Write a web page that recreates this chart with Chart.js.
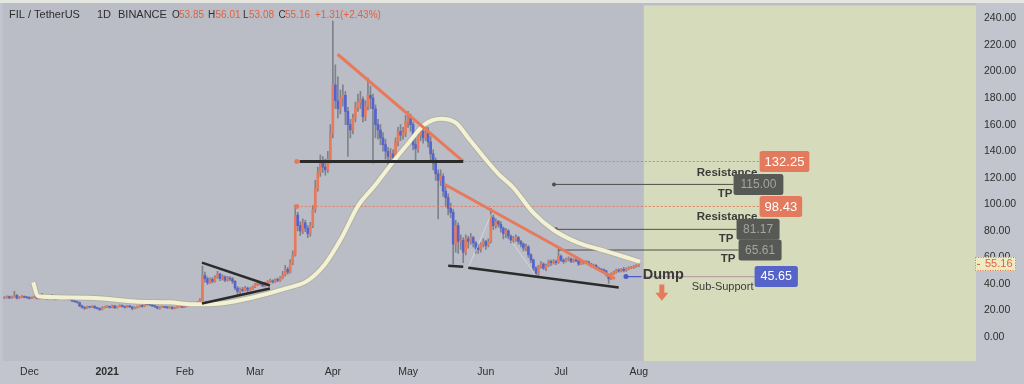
<!DOCTYPE html>
<html><head><meta charset="utf-8">
<script src="https://cdn.jsdelivr.net/npm/chart.js@4.4.1/dist/chart.umd.min.js"></script>
<style>html,body{margin:0;padding:0;background:#c2c5cd;overflow:hidden}canvas{display:block}</style>
</head><body>
<canvas id="c" width="1024" height="384" style="width:1024px;height:384px"></canvas>
<script>
// ---------- DATA ----------
// day index: 0 = 1 Dec 2020; first candle = 21 Nov 2020, last = 1 Aug 2021
const firstDay = -10;
const monthTickDays   = [0, 31, 62, 90, 121, 151, 182, 212, 243];
const monthTickLabels = ['Dec', '2021', 'Feb', 'Mar', 'Apr', 'May', 'Jun', 'Jul', 'Aug'];
const priceTicks = [0, 20, 40, 60, 80, 100, 120, 140, 160, 180, 200, 220, 240];

const firstOpen = 29.5;
const closes = [
 29.8,30.5,29.6,30.2,31.5,29.4,30.1,30.8,30.0,29.7,
 29.2,29.8,30.3,29.1,29.6,30.4,29.9,29.0,29.5,29.1,28.6,29.3,29.8,29.4,28.9,29.6,28.4,27.2,26.8,26.1,23.6,22.4,21.8,22.9,22.5,23.2,22.1,21.6,20.9,22.3,22.8,
 23.1,22.4,23.6,22.2,23.0,23.8,23.1,22.5,23.4,22.9,21.6,22.3,22.9,23.5,23.2,25.8,24.6,24.2,23.4,23.1,21.8,22.6,22.9,22.4,22.1,22.6,21.5,22.3,22.7,23.0,22.6,
 23.4,24.1,24.8,24.3,25.2,26.0,27.8,46.5,44.0,41.0,43.5,42.0,45.0,47.5,44.0,45.5,43.0,44.5,43.8,42.0,37.0,34.5,36.0,35.2,37.0,35.5,36.5,37.8,
 39.5,41.0,40.2,38.6,40.5,41.8,42.5,41.6,43.0,42.8,44.5,47.0,51.0,49.0,56.0,62.0,92.0,84.0,80.0,86.0,82.0,78.0,84.0,96.0,112,124,132,128,126,134,153,
 190,178,172,180,182,170,160,156,165,173,177,179,166,174,182,180,172,160,156,150,145,140,136,138,135,147,155,152,154,162,
 165,160,145,142,152,155,150,154,147,138,131,123,118,121,110,105,97,94,70,84,72,73,64,74,72,75,71,67,66,70,72,
 69,72,90,84,87,85,82,78,80,76,73,74,75,72,70,67,68,62,58,52,48,53,55,52,54,57,56,57,56,61,
 58,57,58.5,59,57,58,57.5,55,56.5,56,56.8,55,53.5,54,52,51,50.5,50,47,44,47.5,49,50.5,49.8,51,50,51.5,52,52.5,53.2,53.85,
 55.16
];
const highs = [
 30.6,31.2,30.9,31.0,34.5,32.0,30.7,31.4,31.2,30.5,
 30.3,30.4,31.0,30.6,30.1,33.0,30.8,30.2,30.0,32.0,29.5,29.8,30.4,30.2,29.8,30.2,29.9,28.8,27.8,27.2,26.5,24.1,23.0,23.4,23.3,23.8,23.7,22.6,22.0,22.8,23.4,
 23.7,23.5,24.2,24.0,23.5,24.4,24.3,23.6,23.9,23.8,23.1,22.9,23.4,24.0,24.1,27.0,26.2,25.1,24.6,23.8,23.3,23.0,23.4,23.2,23.0,23.0,22.9,22.7,23.4,23.5,23.3,
 23.9,24.6,25.4,25.3,25.8,26.8,29.0,53.5,49.0,45.2,44.6,44.8,46.3,49.5,48.2,47.0,46.2,45.8,45.6,44.8,42.6,38.0,37.2,37.5,38.2,37.8,37.4,38.6,
 40.6,42.5,41.8,40.8,41.5,42.6,43.8,43.2,44.0,44.5,45.6,49.5,54.0,52.5,58.5,65.0,99.5,94.0,87.0,89.0,88.0,84.0,86.5,99.0,118,128,137,136,134,140,160,
 238,205,196,186,190,185,173,164,168,177,183,185,181,178,195,189,183,175,164,160,154,149,143,142,141,150,158,160,158,167,
 170,168,162,150,156,160,158,160,158,151,141,135,126,126,123,114,108,101,96,88,86,77,75,77,76,78,76,72,70,71,74,
 73,74,97,92,89,88,87,83,82,81,77,76,77,76,73,71,70,69,63,59,53,54,57,56,55,58,58,58.5,58,66.5,
 62,59,59.5,60.5,59.8,59,59.2,58,57.4,57.5,57.6,57.2,55.6,55,54.6,52.8,51.8,51.4,50.5,47.6,48.5,49.8,51.2,51.5,51.8,52.5,52.2,53,53.4,54,54.6,
 56.01
];
const lows = [
 29.0,29.4,29.0,29.2,29.9,28.8,29.0,29.8,29.5,29.1,
 28.7,28.9,29.5,28.7,28.8,29.3,29.4,28.5,28.6,28.7,28.0,28.3,29.0,28.9,28.4,28.6,28.0,26.8,26.2,25.6,23.0,21.8,20.9,21.4,22.0,22.2,21.6,21.0,20.0,20.5,21.9,
 22.3,21.9,22.1,21.5,21.8,22.7,22.6,21.8,22.2,22.3,20.6,21.2,21.9,22.6,22.6,23.0,24.0,23.7,23.0,22.2,21.2,21.1,22.2,22.0,21.7,21.6,21.0,21.2,21.9,22.4,22.1,
 22.3,23.1,23.8,23.7,24.0,24.9,25.6,27.2,41.5,39.5,40.2,40.8,41.4,44.2,42.5,43.0,41.8,42.2,42.6,40.5,35.5,31.0,32.0,34.0,34.6,34.2,35.0,35.8,
 37.2,38.8,39.2,37.8,37.9,39.8,41.0,40.6,41.0,41.8,42.0,43.8,46.0,47.5,48.2,54.5,61.0,80.0,76.5,78.0,79.5,75.0,76.0,82.5,94,110,121,124,122,124,131,
 150,172,165,168,174,160,136,150,153,162,170,172,162,163,171,172,131,150,149,145,140,134,130,132,131,133,144,148,149,151,
 158,155,141,133,139,148,146,148,143,133,126,118,89,114,106,98,92,90,55,64,63,66,56,62,67,70,68,63,63,64,68,
 66,68,71,81,82,83,79,74,75,74,71,71,72,70,68,65,65,60,56,50,45,46,52,51,50,53,54,55,54.5,55.5,
 57,55.5,56.5,57.5,56,56.2,56.8,54,54.5,55,55.5,54.2,52.8,52.5,51.2,50,49.6,49,46,40.5,43.2,46.8,48.2,49,49.2,49.2,49.5,50.8,51.5,51.8,52.6,
 53.08
];

// moving average
const maDays   = [1.5,3.4,16,29,42,56,65,76,89,102,111,118,124.5,131,137.5,144.5,151,157.5,164,170,175.5,181,187,193,201,209,219,228,238.5,243.5];
const maValues = [41.3,30.8,29.9,29.2,26.9,26.2,24.7,25.4,29.9,36.6,42.6,55.3,74.8,98.7,113.6,130.8,145.8,160,164.5,161.5,148.8,136,123,112.5,93.5,80.7,71.0,65.8,59.8,56.8];

// drawn trend lines [day, price]
const fallLineTop    = [[122.9,213],[173,132.3]];
const fallLineLow    = [[165.5,115.1],[233.5,44]];
const neckLine       = [[107.8,132.25],[173,132.25]];
const wedgeBaseA     = [[167,53.8],[173,53.1]];
const wedgeBaseB     = [[175,52.3],[235,37.4]];
const febTriTop      = [[68.8,56.1],[95.9,38.9]];
const febTriBottom   = [[68.8,25.4],[95.9,36.6]];
const faintLegs      = [[[175,52.3],[184.2,92.7]], [[192.1,72.5],[202,46.4]]];

// levels
const resistance1 = 132.25, takeProfit1 = 115.00, resistance2 = 98.43;
const takeProfit2 = 81.17, takeProfit3 = 65.61, subSupport = 45.65;
const zoneStartDay = 245;

// ---------- STYLE ----------
const UP = '#e8795a', DOWN = '#5564cd', WICK = '#7f828a';
const FONT = '"Liberation Sans", Arial, sans-serif';
const opens = closes.map((c, i) => i === 0 ? firstOpen : closes[i - 1]);
const days = closes.map((_, i) => firstDay + i);

function seg(points, color, width, dash, order, dot) {
  return { type: 'line', data: points.map(p => ({ x: p[0], y: p[1] })),
    borderColor: color, borderWidth: width, borderDash: dash || [],
    pointRadius: dot ? points.map((_, i) => i === 0 ? dot : 0) : 0,
    pointBackgroundColor: color, pointBorderWidth: 0, pointHoverRadius: 0,
    fill: false, tension: 0, order: order };
}

const datasets = [
  { type: 'bar', data: days.map((d, i) => ({ x: d, y: [lows[i], highs[i]] })),
    backgroundColor: WICK, barThickness: 1, grouped: false, order: 30 },
  { type: 'bar', data: days.map((d, i) => ({ x: d, y: [opens[i], closes[i]] })),
    backgroundColor: closes.map((c, i) => c >= opens[i] ? UP : DOWN),
    barThickness: 2, minBarLength: 1, grouped: false, order: 29 },
  ...faintLegs.map(p => seg(p, 'rgba(235,235,240,0.55)', 1, [], 25)),
  seg([[106.6, resistance1], [291.2, resistance1]], UP, 1, [2, 2], 12, 2.5),
  seg([[106.6, resistance2], [291.2, resistance2]], UP, 1, [2, 2], 12, 2.5),
  seg([[209.2, takeProfit1], [280.8, takeProfit1]], '#4e504c', 1, [], 12, 2),
  seg([[210, takeProfit2], [282, takeProfit2]], '#4e504c', 1, [], 12, 2),
  seg([[210.8, takeProfit3], [282.8, takeProfit3]], '#4e504c', 1, [], 12, 0),
  seg([[237.9, subSupport], [244, subSupport]], '#4a5ac8', 1.2, [], 12, 2.5),
  seg([[244, subSupport], [289.2, subSupport]], '#b9a2a6', 1.2, [], 12, 0),
  { type: 'line', data: maDays.map((d, i) => ({ x: d, y: maValues[i] })),
    borderColor: 'rgba(160,160,120,0.4)', borderWidth: 6, pointRadius: 0,
    fill: false, cubicInterpolationMode: 'monotone', order: 9 },
  { type: 'line', data: maDays.map((d, i) => ({ x: d, y: maValues[i] })),
    borderColor: '#f3f1d3', borderWidth: 4, pointRadius: 0,
    fill: false, cubicInterpolationMode: 'monotone', order: 8 },
  seg(fallLineTop, UP, 3, [], 5),
  seg(fallLineLow, UP, 3, [], 5),
  seg(neckLine, '#2b2b2b', 3, [], 4),
  seg(wedgeBaseA, '#2b2b2b', 2.5, [], 4),
  seg(wedgeBaseB, '#2b2b2b', 2.5, [], 4),
  seg(febTriTop, '#2b2b2b', 2.5, [], 4),
  seg(febTriBottom, '#2b2b2b', 2.5, [], 4)
];

// annotations (in chart data coordinates)
const tags = [
  { v: resistance1, d: 291.2, bg: '#e37a5e', fg: '#ffffff', font: '13px', pad: 5 },
  { v: takeProfit1, d: 280.8, bg: '#565954', fg: '#a3a5a0', font: '12px', pad: 7 },
  { v: resistance2, d: 291.2, bg: '#e37a5e', fg: '#ffffff', font: '13px', pad: 5 },
  { v: takeProfit2, d: 282.0, bg: '#565954', fg: '#a3a5a0', font: '12px', pad: 6.5 },
  { v: takeProfit3, d: 282.8, bg: '#565954', fg: '#a3a5a0', font: '12px', pad: 6.5 },
  { v: subSupport,  d: 289.2, bg: '#5663c8', fg: '#ffffff', font: '12.5px', pad: 6 }
];
const notes = [
  { t: 'Resistance', d: 266.1, v: 124.1, font: 'bold 11.5px' },
  { t: 'TP', d: 274.5, v: 107.7, font: 'bold 11.5px' },
  { t: 'Resistance', d: 266.1, v: 90.5, font: 'bold 11.5px' },
  { t: 'TP', d: 274.9, v: 74.0, font: 'bold 11.5px' },
  { t: 'TP', d: 275.7, v: 59.1, font: 'bold 11.5px' },
  { t: 'Dump', d: 244.6, v: 47.1, font: 'bold 14.5px' },
  { t: 'Sub-Support', d: 264.1, v: 38.1, font: '11px' }
];
const arrow = { d: 252.2, top: 39.6, bottom: 27.4 };

function rr(ctx, x, y, w, h, r) {
  ctx.beginPath(); ctx.moveTo(x + r, y); ctx.lineTo(x + w - r, y); ctx.quadraticCurveTo(x + w, y, x + w, y + r);
  ctx.lineTo(x + w, y + h - r); ctx.quadraticCurveTo(x + w, y + h, x + w - r, y + h);
  ctx.lineTo(x + r, y + h); ctx.quadraticCurveTo(x, y + h, x, y + h - r);
  ctx.lineTo(x, y + r); ctx.quadraticCurveTo(x, y, x + r, y); ctx.closePath();
}

const deco = {
  id: 'deco',
  beforeDraw(chart) {
    const { ctx, chartArea: a, scales: { x } } = chart;
    ctx.save();
    ctx.fillStyle = '#c2c5cd'; ctx.fillRect(0, 0, chart.width, chart.height);
    ctx.fillStyle = '#babdc6'; ctx.fillRect(a.left, a.top, a.right - a.left, a.bottom - a.top);
    const gx = x.getPixelForValue(zoneStartDay);
    ctx.fillStyle = '#d6dbbc'; ctx.fillRect(gx, a.top + 3, a.right - gx, a.bottom - a.top - 3);
    ctx.fillStyle = '#e6e6e0'; ctx.fillRect(0, 0, chart.width, 3);
    ctx.restore();
  },
  afterDatasetsDraw(chart) {
    const { ctx, scales: { x, y } } = chart;
    ctx.save();
    ctx.textBaseline = 'middle';
    notes.forEach(n => {
      ctx.font = n.font + ' ' + FONT; ctx.fillStyle = '#3b3b3b'; ctx.textAlign = 'left';
      ctx.fillText(n.t, x.getPixelForValue(n.d), y.getPixelForValue(n.v));
    });
    tags.forEach(t => {
      const txt = t.v.toFixed(2);
      ctx.font = t.font + ' ' + FONT;
      const w = ctx.measureText(txt).width + 2 * t.pad;
      const px = x.getPixelForValue(t.d), py = y.getPixelForValue(t.v);
      ctx.fillStyle = t.bg; rr(ctx, px, py - 10.5, w, 21, 2.5); ctx.fill();
      ctx.fillStyle = t.fg; ctx.textAlign = 'center';
      ctx.fillText(txt, px + w / 2, py + 0.5);
    });
    const ax = x.getPixelForValue(arrow.d), at = y.getPixelForValue(arrow.top), ab = y.getPixelForValue(arrow.bottom);
    const mid = at + (ab - at) * 0.5;
    ctx.fillStyle = UP; ctx.beginPath();
    ctx.moveTo(ax - 2.5, at); ctx.lineTo(ax + 2.5, at); ctx.lineTo(ax + 2.5, mid);
    ctx.lineTo(ax + 6.5, mid); ctx.lineTo(ax, ab); ctx.lineTo(ax - 6.5, mid); ctx.lineTo(ax - 2.5, mid);
    ctx.closePath(); ctx.fill();
    ctx.restore();
  },
  afterDraw(chart) {
    const { ctx, scales: { y } } = chart;
    const n = closes.length - 1;
    const o = opens[n], h = highs[n], l = lows[n], c = closes[n];
    const ch = c - opens[n];
    ctx.save();
    ctx.textBaseline = 'middle'; ctx.textAlign = 'left';
    const dark = '#2e2e2e', red = '#e0623f';
    ctx.font = '11px ' + FONT; ctx.fillStyle = dark;
    ctx.fillText('FIL / TetherUS', 9, 15);
    ctx.fillText('1D', 97, 15);
    ctx.fillText('BINANCE', 118, 15);
    ctx.font = '10px ' + FONT;
    const parts = [['O', 172, dark], [o.toFixed(2), 179, red], ['H', 208, dark], [h.toFixed(2), 215.5, red],
      ['L', 243, dark], [l.toFixed(2), 249, red], ['C', 278.5, dark], [c.toFixed(2), 285, red],
      [(ch >= 0 ? '+' : '') + ch.toFixed(2), 315, red], ['(' + (ch >= 0 ? '+' : '') + (ch / o * 100).toFixed(2) + '%)', 340, red]];
    parts.forEach(p => { ctx.fillStyle = p[2]; ctx.fillText(p[0], p[1], 15); });
    const py = y.getPixelForValue(c);
    ctx.fillStyle = '#ecebc3'; ctx.fillRect(975, py - 7, 41, 14);
    ctx.strokeStyle = '#e0623f'; ctx.setLineDash([1, 1.5]); ctx.lineWidth = 1;
    ctx.strokeRect(975.5, py - 6.5, 40, 13);
    ctx.setLineDash([]);
    ctx.fillStyle = red; ctx.fillRect(977, py, 3, 1);
    ctx.font = '11px ' + FONT; ctx.fillText(c.toFixed(2), 985, py + 0.5);
    ctx.restore();
  }
};

function noPad(s) { s.paddingTop = 0; s.paddingBottom = 0; s.paddingLeft = 0; s.paddingRight = 0; }

new Chart(document.getElementById('c'), {
  type: 'bar',
  data: { datasets },
  options: {
    responsive: false, maintainAspectRatio: false, devicePixelRatio: 1, animation: false,
    layout: { padding: 0 },
    plugins: { legend: { display: false }, tooltip: { enabled: false } },
    events: [],
    scales: {
      x: { type: 'linear', position: 'bottom', min: -10.74, max: 377.49, offset: false,
        grid: { display: false, drawTicks: false }, border: { display: false },
        afterBuildTicks: s => { s.ticks = monthTickDays.map(v => ({ value: v })); },
        afterFit: s => { s.height = 23; noPad(s); },
        ticks: { autoSkip: false, maxRotation: 0, padding: 5, color: '#2e2e2e',
          font: ctx => ({ family: FONT, size: 10.5, weight: (ctx.tick && ctx.tick.value === 31) ? 'bold' : 'normal' }),
          callback: v => monthTickLabels[monthTickDays.indexOf(v)] }
      },
      y: { type: 'linear', position: 'right', min: -17.94, max: 251.96,
        grid: { display: false, drawTicks: false }, border: { display: false },
        afterBuildTicks: s => { s.ticks = priceTicks.map(v => ({ value: v })); },
        afterFit: s => { s.width = 48; noPad(s); },
        ticks: { padding: 8, color: '#2e2e2e', font: { family: FONT, size: 10.5 },
          callback: v => Number(v).toFixed(2) }
      }
    }
  },
  plugins: [deco]
});
</script>
</body></html>
